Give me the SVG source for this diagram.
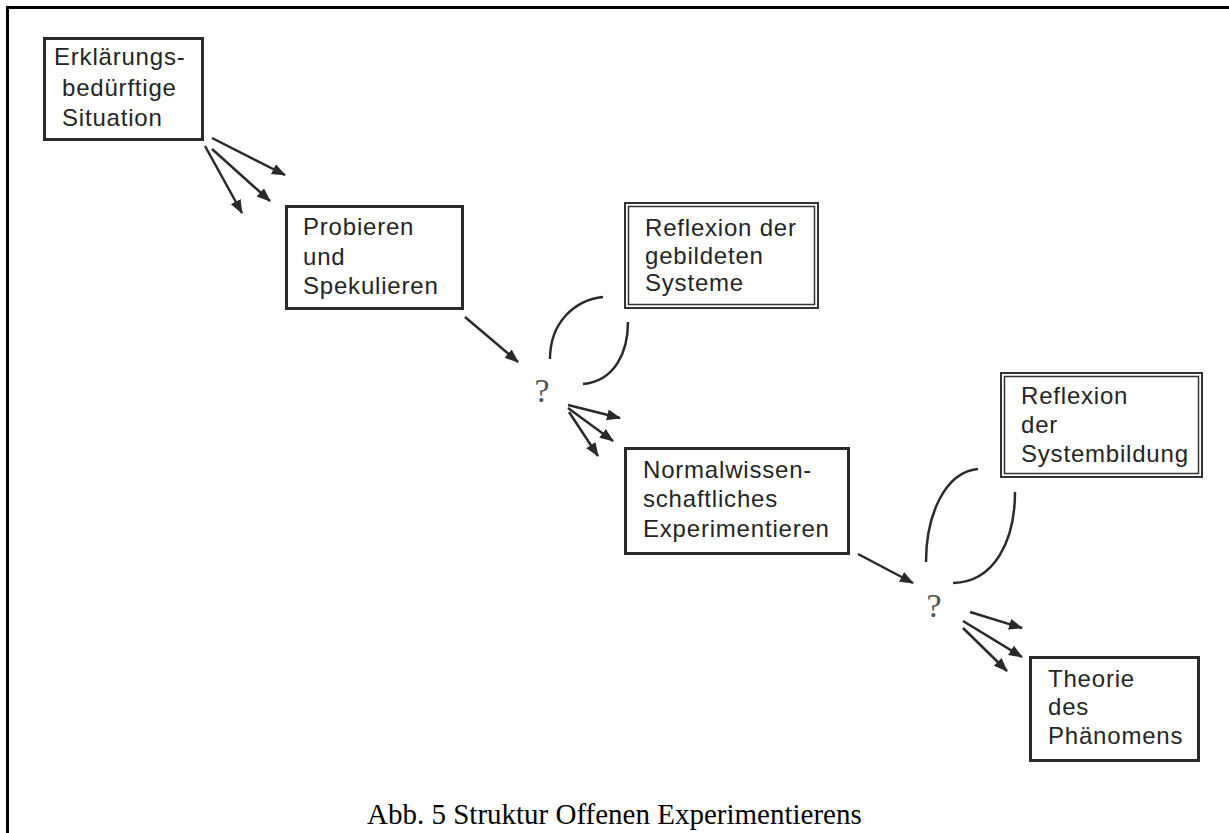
<svg xmlns="http://www.w3.org/2000/svg" width="1229" height="833" viewBox="0 0 1229 833">
<defs>
<marker id="ah" markerUnits="userSpaceOnUse" markerWidth="16" markerHeight="12" refX="13" refY="5.5" orient="auto">
<path d="M0,0 L14,5.5 L0,11 z" fill="#2a2a2a"/>
</marker>
<style>
.box{fill:#fff;stroke:#2a2a2a;stroke-width:3}
.dbo{fill:#fff;stroke:#333;stroke-width:2}
.dbi{fill:none;stroke:#333;stroke-width:1.5}
.t{font-family:"Liberation Sans",Arial,sans-serif;font-size:24px;letter-spacing:0.8px;fill:#252525}
.q{font-family:"Liberation Serif","Times New Roman",serif;font-size:34px;fill:#555}
.arr{fill:none;stroke:#2a2a2a;stroke-width:2.5;marker-end:url(#ah)}
.arc{fill:none;stroke:#2a2a2a;stroke-width:2.5}
.cap{font-family:"Liberation Serif","Times New Roman",serif;font-size:29px;fill:#000}
</style>
</defs>
<rect width="1229" height="833" fill="#fff"/>
<path d="M7.5,833 V7.5 H1229" fill="none" stroke="#000" stroke-width="3"/>

<g id="n1">
<rect class="box" x="44.5" y="38.5" width="158" height="101"/>
<text class="t" x="54" y="65">Erklärungs-</text>
<text class="t" x="62" y="96">bedürftige</text>
<text class="t" x="62" y="126">Situation</text>
</g>

<g id="n2">
<rect class="box" x="286.5" y="206.5" width="176" height="102"/>
<text class="t" x="303" y="235">Probieren</text>
<text class="t" x="303" y="265">und</text>
<text class="t" x="303" y="294">Spekulieren</text>
</g>

<g id="n3">
<rect class="dbo" x="625" y="203" width="193" height="105"/>
<rect class="dbi" x="628.5" y="206.5" width="186" height="98"/>
<text class="t" x="645" y="236">Reflexion der</text>
<text class="t" x="645" y="264">gebildeten</text>
<text class="t" x="645" y="291">Systeme</text>
</g>

<g id="q1">
<text class="q" x="542" y="402" text-anchor="middle">?</text>
</g>

<g id="n4">
<rect class="box" x="625.5" y="448.5" width="223" height="105"/>
<text class="t" x="643" y="478">Normalwissen-</text>
<text class="t" x="643" y="507">schaftliches</text>
<text class="t" x="643" y="537">Experimentieren</text>
</g>

<g id="n5">
<rect class="dbo" x="1001" y="373" width="201" height="104"/>
<rect class="dbi" x="1004.5" y="376.5" width="194" height="97"/>
<text class="t" x="1021" y="404">Reflexion</text>
<text class="t" x="1021" y="433">der</text>
<text class="t" x="1021" y="462">Systembildung</text>
</g>

<g id="q2">
<text class="q" x="934" y="617" text-anchor="middle">?</text>
</g>

<g id="n6">
<rect class="box" x="1030.5" y="657.5" width="168" height="103"/>
<text class="t" x="1048" y="687">Theorie</text>
<text class="t" x="1048" y="715">des</text>
<text class="t" x="1048" y="744">Phänomens</text>
</g>

<g id="connectors">
<path class="arr" d="M212,138 L285,175"/>
<path class="arr" d="M212,149 L270,201"/>
<path class="arr" d="M205,146 L242,213"/>
<path class="arr" d="M465,317 L518,362"/>
<path class="arc" d="M603,297 C575,300 550,322 550,359"/>
<path class="arc" d="M628,322 C628,352 615,381 583,384"/>
<path class="arr" d="M568,405 L620,418"/>
<path class="arr" d="M568,408 L613,441"/>
<path class="arr" d="M569,412 L598,456"/>
<path class="arr" d="M858,554 L913,583"/>
<path class="arc" d="M978,469 C945,472 926,515 926,562"/>
<path class="arc" d="M1015,492 C1015,540 995,582 953,583"/>
<path class="arr" d="M970,612 L1022,628"/>
<path class="arr" d="M963,621 L1022,657"/>
<path class="arr" d="M963,628 L1007,671"/>
</g>

<text class="cap" x="367" y="824">Abb. 5 Struktur Offenen Experimentierens</text>
</svg>
